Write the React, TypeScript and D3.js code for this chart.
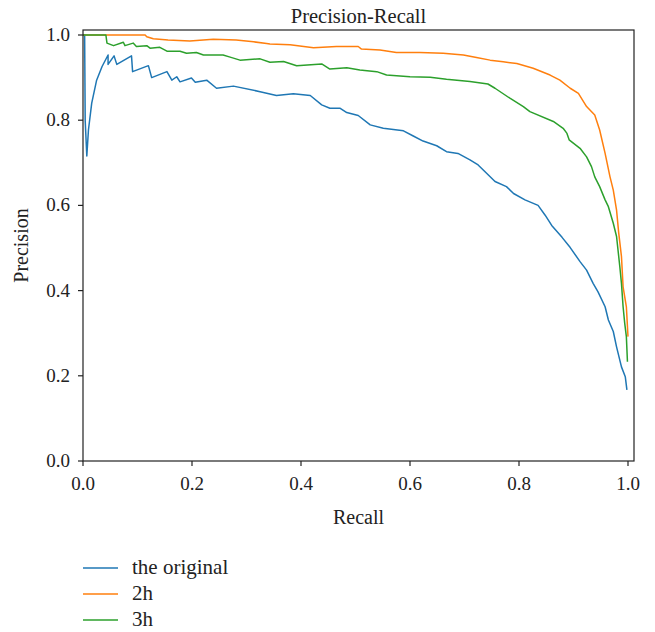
import React from "react";
import * as d3 from "d3";

const originalRecall = [0.0, 0.003, 0.004, 0.007, 0.01, 0.016, 0.025, 0.035, 0.046, 0.046, 0.057, 0.062, 0.089, 0.091, 0.12, 0.126, 0.154, 0.163, 0.172, 0.178, 0.199, 0.206, 0.227, 0.245, 0.276, 0.325, 0.355, 0.386, 0.417, 0.438, 0.453, 0.472, 0.484, 0.505, 0.527, 0.551, 0.588, 0.606, 0.624, 0.649, 0.667, 0.688, 0.71, 0.725, 0.741, 0.756, 0.777, 0.79, 0.811, 0.835, 0.848, 0.86, 0.879, 0.894, 0.912, 0.924, 0.936, 0.945, 0.958, 0.964, 0.973, 0.979, 0.988, 0.995, 0.998];
const originalPrecision = [1.0, 1.0, 0.8, 0.716, 0.777, 0.84, 0.894, 0.926, 0.953, 0.931, 0.951, 0.931, 0.951, 0.914, 0.928, 0.9, 0.914, 0.894, 0.902, 0.89, 0.899, 0.889, 0.894, 0.875, 0.88, 0.867, 0.858, 0.862, 0.858, 0.836, 0.828, 0.828, 0.818, 0.811, 0.789, 0.781, 0.775, 0.763, 0.751, 0.74, 0.726, 0.722, 0.707, 0.695, 0.675, 0.656, 0.644, 0.628, 0.613, 0.6, 0.577, 0.553, 0.525, 0.501, 0.468, 0.448, 0.417, 0.397, 0.362, 0.331, 0.304, 0.268, 0.221, 0.198, 0.167];

const twoHRecall = [0.0, 0.114, 0.117, 0.129, 0.156, 0.196, 0.239, 0.281, 0.313, 0.337, 0.343, 0.38, 0.423, 0.465, 0.505, 0.511, 0.545, 0.575, 0.618, 0.661, 0.698, 0.722, 0.747, 0.771, 0.796, 0.826, 0.857, 0.875, 0.894, 0.909, 0.924, 0.939, 0.948, 0.958, 0.967, 0.973, 0.979, 0.983, 0.988, 0.991, 0.997, 1.0];
const twoHPrecision = [1.0, 1.0, 0.996, 0.991, 0.988, 0.986, 0.99, 0.988, 0.984, 0.98, 0.979, 0.977, 0.97, 0.973, 0.973, 0.967, 0.965, 0.959, 0.959, 0.957, 0.953, 0.947, 0.941, 0.937, 0.933, 0.922, 0.906, 0.894, 0.875, 0.863, 0.832, 0.812, 0.777, 0.722, 0.667, 0.636, 0.589, 0.535, 0.48, 0.409, 0.362, 0.292];

const threeHRecall = [0.0, 0.042, 0.044, 0.056, 0.074, 0.077, 0.092, 0.098, 0.117, 0.123, 0.141, 0.154, 0.178, 0.19, 0.208, 0.221, 0.257, 0.27, 0.288, 0.325, 0.343, 0.368, 0.392, 0.438, 0.453, 0.484, 0.508, 0.539, 0.557, 0.6, 0.637, 0.667, 0.71, 0.743, 0.756, 0.784, 0.808, 0.82, 0.863, 0.881, 0.888, 0.892, 0.912, 0.924, 0.933, 0.939, 0.948, 0.958, 0.964, 0.973, 0.979, 0.985, 0.988, 0.991, 0.994, 0.997, 0.999];
const threeHPrecision = [1.0, 1.0, 0.981, 0.975, 0.983, 0.975, 0.981, 0.973, 0.975, 0.969, 0.971, 0.962, 0.962, 0.957, 0.959, 0.953, 0.953, 0.948, 0.941, 0.944, 0.936, 0.938, 0.928, 0.932, 0.92, 0.923, 0.918, 0.914, 0.906, 0.902, 0.901, 0.896, 0.891, 0.885, 0.875, 0.851, 0.832, 0.82, 0.797, 0.781, 0.769, 0.754, 0.734, 0.714, 0.691, 0.667, 0.644, 0.613, 0.597, 0.558, 0.527, 0.456, 0.417, 0.362, 0.323, 0.292, 0.233];

const seriesNames = ["the original", "2h", "3h"];
const seriesColors = ["#1f77b4", "#ff7f0e", "#2ca02c"];
const tickValues = [0, 0.2, 0.4, 0.6, 0.8, 1.0];

const FONT = "'Liberation Serif', 'DejaVu Serif', serif";

export default function App() {
  const W = 655;
  const H = 632;
  const left = 83, right = 634, top = 30, bottom = 461;
  const x = d3.scaleLinear().domain([0, 1]).range([83, 628]);
  const y = d3.scaleLinear().domain([0, 1]).range([461, 35]);

  const series = [
    { r: originalRecall, p: originalPrecision },
    { r: twoHRecall, p: twoHPrecision },
    { r: threeHRecall, p: threeHPrecision },
  ];
  const line = d3
    .line<[number, number]>()
    .x((d) => x(d[0]))
    .y((d) => y(d[1]));

  const legendY = [568, 594, 620];

  return (
    <svg
      width={W}
      height={H}
      style={{ position: "absolute", left: 0, top: 0, background: "#fff" }}
      fontFamily={FONT}
    >
      <rect x={0} y={0} width={W} height={H} fill="#fff" />
      {series.map((s, i) => (
        <path
          key={i}
          d={line(s.r.map((r, j) => [r, s.p[j]] as [number, number])) || ""}
          fill="none"
          stroke={seriesColors[i]}
          strokeWidth={1.5}
          strokeLinejoin="round"
        />
      ))}
      <rect
        x={left}
        y={top}
        width={right - left}
        height={bottom - top}
        fill="none"
        stroke="#222"
        strokeWidth={1.2}
      />
      {tickValues.map((t) => (
        <g key={"x" + t}>
          <line x1={x(t)} x2={x(t)} y1={bottom} y2={bottom + 5} stroke="#222" strokeWidth={1.2} />
          <text x={x(t)} y={490} textAnchor="middle" fontSize={19} fill="#222">
            {t.toFixed(1)}
          </text>
        </g>
      ))}
      {tickValues.map((t) => (
        <g key={"y" + t}>
          <line x1={left - 5} x2={left} y1={y(t)} y2={y(t)} stroke="#222" strokeWidth={1.2} />
          <text x={70} y={y(t) + 6} textAnchor="end" fontSize={19} fill="#222">
            {t.toFixed(1)}
          </text>
        </g>
      ))}
      <text x={(left + right) / 2} y={23} textAnchor="middle" fontSize={20.5} fill="#222">
        Precision-Recall
      </text>
      <text x={(left + right) / 2} y={524} textAnchor="middle" fontSize={20} fill="#222">
        Recall
      </text>
      <text
        transform={`translate(28, ${(top + bottom) / 2}) rotate(-90)`}
        textAnchor="middle"
        fontSize={20}
        fill="#222"
      >
        Precision
      </text>
      {seriesNames.map((n, i) => (
        <g key={n}>
          <line x1={83} x2={118} y1={legendY[i]} y2={legendY[i]} stroke={seriesColors[i]} strokeWidth={1.5} />
          <text x={132} y={legendY[i] + 6} fontSize={21} fill="#222">
            {n}
          </text>
        </g>
      ))}
    </svg>
  );
}
